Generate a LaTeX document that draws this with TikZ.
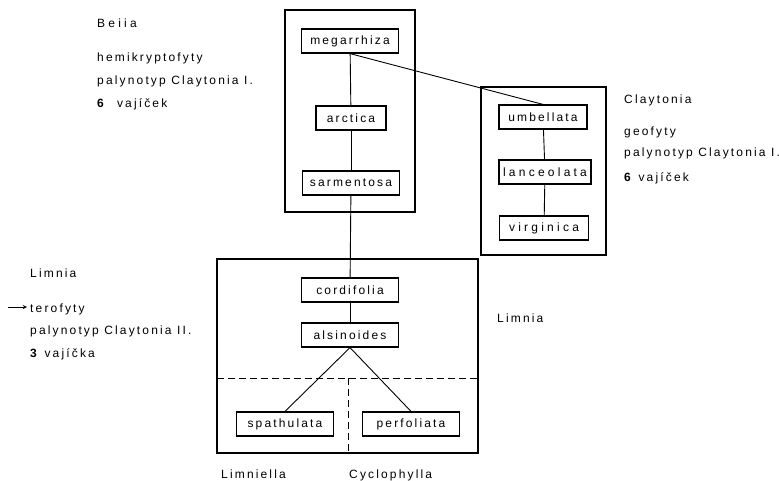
\documentclass[tikz,border=0pt]{standalone}
\usepackage{fontspec}
\setmainfont{Liberation Sans}[LetterSpace=18]

\newcommand{\wide}{\addfontfeature{LetterSpace=27}}

\tikzset{
  taxon/.style={draw, line width=1.2pt, minimum width=97pt, minimum height=24pt,
    inner xsep=3pt, font=\fontsize{12}{14}\selectfont},
  note/.style={anchor=base west, inner sep=0pt, font=\fontsize{12}{14}\selectfont},
  group/.style={line width=1.2pt},
  link/.style={line width=0.9pt},
  split/.style={line width=0.7pt, dash pattern=on 7pt off 4pt},
}

\begin{document}
\begin{tikzpicture}[x=1pt,y=-1pt]
    \useasboundingbox (0,0) rectangle (779,481);

    % frames of the sections
    \draw[group] (285,10) rectangle (415,212);
    \draw[group] (481,87) rectangle (606,255);
    \draw[group] (217,259) rectangle (478,453);
    \draw[split] (217,378) -- (478,378);
    \draw[split] (348,378) -- (348,453);

    \node[taxon]                     (megarrhiza) at (350,41)  {megarrhiza};
    \node[taxon, minimum width=70pt] (arctica)    at (351,118) {arctica};
    \node[taxon]                     (sarmentosa) at (351,183) {sarmentosa};
    \node[taxon, minimum width=88pt] (umbellata)  at (543,117) {umbellata};
    \node[taxon, minimum width=92pt] (lanceolata) at (545,172) {\wide lanceolata};
    \node[taxon, minimum width=89pt] (virginica)  at (544,228) {\wide virginica};
    \node[taxon]                     (cordifolia) at (350,290) {cordifolia};
    \node[taxon]                     (alsinoides) at (350,335) {alsinoides};
    \node[taxon]                     (spathulata) at (285,424) {spathulata};
    \node[taxon]                     (perfoliata) at (411,424) {perfoliata};

    \draw[link] (megarrhiza) -- (arctica);
    \draw[link] (arctica) -- (sarmentosa);
    \draw[link] (sarmentosa) -- (cordifolia);
    \draw[link] (megarrhiza.south) -- (umbellata.north);
    \draw[link] (umbellata) -- (lanceolata);
    \draw[link] (lanceolata) -- (virginica);
    \draw[link] (cordifolia) -- (alsinoides);
    \draw[link] (alsinoides.south) -- (spathulata.north);
    \draw[link] (alsinoides.south) -- (perfoliata.north);

    % Beiia
    \node[note] (beiia)   at (97,28)  {\wide Beiia};
    \node[note] (beiiaA)  at (97,62)  {hemikryptofyty};
    \node[note] (beiiaB)  at (97,85)  {palynotyp Claytonia I.};
    \node[note] (beiiaC)  at (97,108) {\textbf{6}\ \ vajíček};

    % Claytonia
    \node[note] (clay)    at (624,104) {Claytonia};
    \node[note] (clayA)   at (624,136) {geofyty};
    \node[note] (clayB)   at (624,157) {palynotyp Claytonia I.};
    \node[note] (clayC)   at (624,182) {\textbf{6} vajíček};

    % Limnia
    \node[note] (limnia)  at (30,277) {Limnia};
    \node[note] (limniaA) at (30,312) {terofyty};
    \node[note] (limniaB) at (30,334) {palynotyp Claytonia II.};
    \node[note] (limniaC) at (30,357) {\textbf{3} vajíčka};
    \node[note] (limniaR) at (497,322) {Limnia};
    \coordinate (arr) at (8,307);
    \draw[link, -stealth, shorten >=3pt] (arr) -- (limniaA.west |- arr);

    \node[note] (limniella)   at (221,478) {Limniella};
    \node[note] (cyclophylla) at (349,478) {Cyclophylla};
\end{tikzpicture}
\end{document}
